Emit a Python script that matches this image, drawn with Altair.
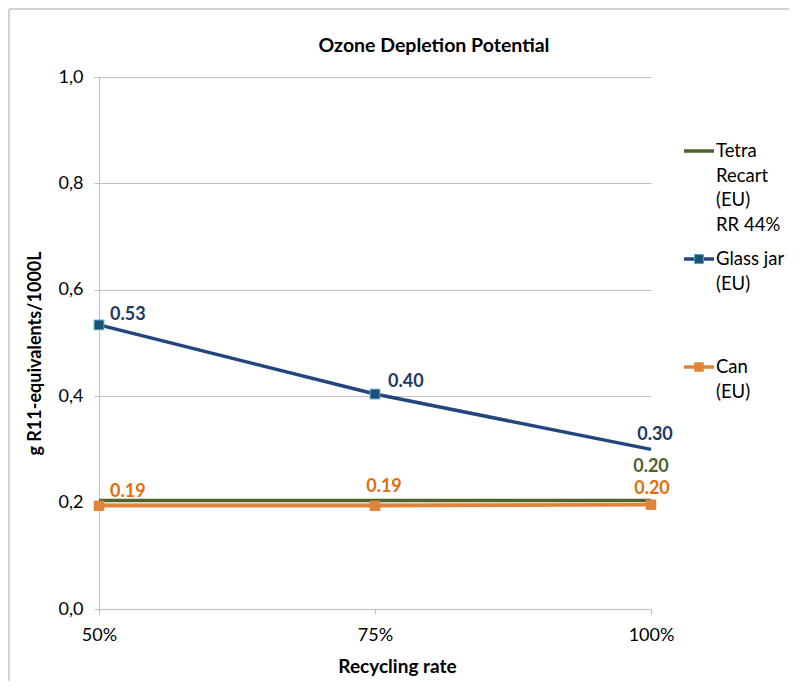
import altair as alt
import pandas as pd

FONT = "Lato"

rates = [50, 75, 100]
rate_labels = ["50%", "75%", "100%"]
series_names = ["Tetra Recart (EU) RR 44%", "Glass jar (EU)", "Can (EU)"]
tetra = [0.204, 0.204, 0.204]
glass = [0.534, 0.404, 0.300]
can = [0.194, 0.194, 0.196]

colors = ["#4F6228", "#23467F", "#E0843C"]
label_colors = ["#4F6228", "#1F3864", "#E46C0A"]

rows = []
for name, vals in zip(series_names, [tetra, glass, can]):
    for r, v in zip(rates, vals):
        rows.append({"series": name, "rate": r, "value": v})
df = pd.DataFrame(rows)

W, H = 552, 532

xenc = alt.X(
    "rate:Q",
    scale=alt.Scale(domain=[50, 100], nice=False, zero=False),
    axis=alt.Axis(
        values=rates,
        labelExpr="datum.value + '%'",
        labelFlush=False,
        grid=False,
        title="Recycling rate",
        titleFont=FONT,
        titleFontSize=19,
        titleFontWeight="bold",
        titleColor="#000000",
        titleX=298,
        titleY=57,
        titleAlign="center",
        titleBaseline="middle",
        labelFont=FONT,
        labelFontSize=18,
        labelColor="#000000",
        labelPadding=12,
        tickSize=5,
        tickColor="#BFBFBF",
        domainColor="#BFBFBF",
    ),
)
yenc = alt.Y(
    "value:Q",
    scale=alt.Scale(domain=[0, 1], nice=False),
    axis=alt.Axis(
        values=[0, 0.2, 0.4, 0.6, 0.8, 1.0],
        labelExpr="replace(format(datum.value, '.1f'), '.', ',')",
        grid=True,
        gridColor="#BFBFBF",
        title="g R11-equivalents/1000L",
        titleFont=FONT,
        titleFontSize=18,
        titleFontWeight="bold",
        titleColor="#000000",
        titleX=-64,
        titleY=276,
        titleAngle=-90,
        titleAlign="center",
        titleBaseline="middle",
        labelFont=FONT,
        labelFontSize=18,
        labelColor="#000000",
        labelPadding=11,
        tickSize=5,
        tickColor="#BFBFBF",
        domainColor="#BFBFBF",
    ),
)

base = alt.Chart(df)

lines = base.mark_line(strokeWidth=3.5).encode(
    x=xenc,
    y=yenc,
    color=alt.Color("series:N", scale=alt.Scale(domain=series_names, range=colors), legend=None),
    order=alt.Order("rate:Q"),
)

glass_pts = base.transform_filter(
    (alt.datum.series == series_names[1]) & (alt.datum.rate < 100)
).mark_square(size=95, color="#1F4E79", stroke="#4BACC6", strokeWidth=1, opacity=1).encode(
    x="rate:Q", y="value:Q"
)
can_pts = base.transform_filter(alt.datum.series == series_names[2]).mark_square(
    size=110, color="#E0843C", opacity=1
).encode(x="rate:Q", y="value:Q")


def lab(si, rate, dx, dy, align):
    return base.transform_filter(
        (alt.datum.series == series_names[si]) & (alt.datum.rate == rate)
    ).mark_text(
        dx=dx, dy=dy, align=align, baseline="middle", font=FONT, fontSize=18,
        fontWeight="bold", color=label_colors[si]
    ).encode(x="rate:Q", y="value:Q", text=alt.Text("value:Q", format=".2f"))


labels = [
    lab(1, 50, 11, -10, "left"),
    lab(1, 75, 13, -12, "left"),
    lab(1, 100, 4, -14, "center"),
    lab(0, 100, 0, -33, "center"),
    lab(2, 100, 1, -16, "center"),
    lab(2, 50, 11, -14, "left"),
    lab(2, 75, 9, -19, "center"),
]

one = alt.Chart(pd.DataFrame({"a": [0]}))

title = one.mark_text(
    font=FONT, fontSize=19.5, fontWeight="bold", color="#000000", align="center", baseline="middle"
).encode(x=alt.value(335), y=alt.value(-31), text=alt.value("Ozone Depletion Potential"))

border_left = one.mark_rule(color="#A6A6A6", strokeWidth=1).encode(
    x=alt.value(-90), y=alt.value(-68), y2=alt.value(604)
)
border_top = one.mark_rule(color="#A6A6A6", strokeWidth=1).encode(
    x=alt.value(-90), x2=alt.value(690), y=alt.value(-68)
)

# custom legend
LX1, LX2, LTX = 585, 615, 617
leg = []
leg_y = [74, 182, 290]
leg_text = [["Tetra", "Recart", "(EU)", "RR 44%"], ["Glass jar", "(EU)"], ["Can", "(EU)"]]
for i in range(3):
    leg.append(one.mark_rule(color=colors[i], strokeWidth=3.5).encode(
        x=alt.value(LX1), x2=alt.value(LX2), y=alt.value(leg_y[i])))
    leg.append(one.mark_text(
        font=FONT, fontSize=18.5, color="#000000", align="left", baseline="middle", lineHeight=24.5
    ).encode(x=alt.value(LTX), y=alt.value(leg_y[i]), text=alt.value(leg_text[i])))
leg.append(one.mark_square(size=80, color="#1F4E79", stroke="#4BACC6", strokeWidth=1, opacity=1).encode(
    x=alt.value(600), y=alt.value(leg_y[1])))
leg.append(one.mark_square(size=90, color="#E0843C", opacity=1).encode(
    x=alt.value(600), y=alt.value(leg_y[2])))

chart = alt.layer(
    border_left, border_top, lines, glass_pts, can_pts, *labels, title, *leg
).properties(
    width=W, height=H, padding=0, background="white"
).configure_view(stroke=None)

chart.save("out.html", embed_options={"renderer": "svg", "actions": False})
